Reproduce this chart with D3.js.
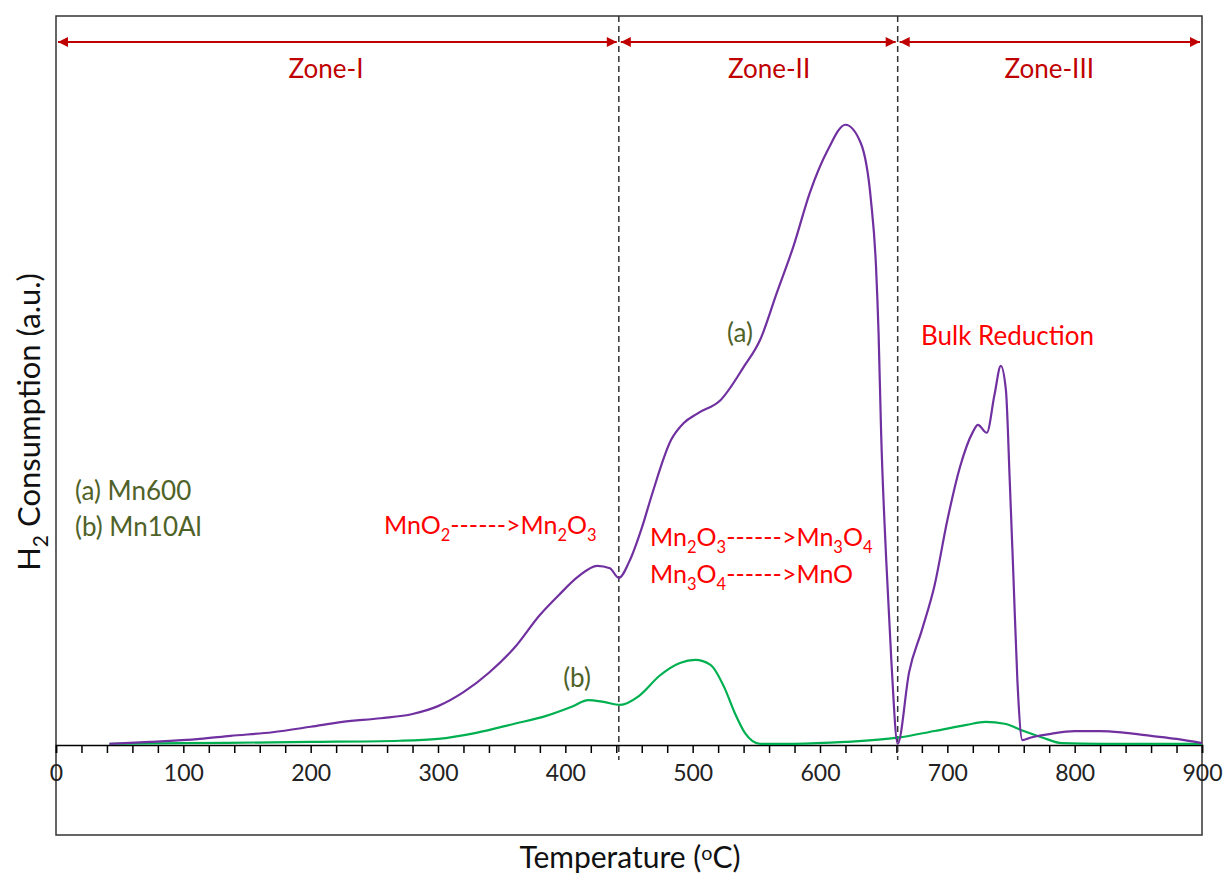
<!DOCTYPE html>
<html>
<head>
<meta charset="utf-8">
<script src="https://cdn.jsdelivr.net/npm/d3@7"></script>
<style>
  body { margin: 0; background: #fff; }
  text { font-family: Lato, "Open Sans", sans-serif; }
</style>
</head>
<body>
<svg id="chart" width="1225" height="878"></svg>
<script>
// ---- data ----
var tempA = [42, 74, 113, 137, 170, 200, 225, 255, 280, 300, 320, 340, 360, 380, 395, 410, 425, 435, 442,
             450, 460, 468, 483, 493, 504, 522, 540, 553, 566, 579, 592, 606, 620, 632, 640, 644, 646, 648,
             652, 656, 661, 670, 680, 690, 700, 710, 720, 724, 731, 737, 742, 746, 749, 752, 755, 759, 765,
             780, 800, 820, 840, 860, 880, 900];
var valA  = [0.2, 0.5, 1.0, 1.5, 2.1, 3.0, 3.8, 4.4, 5.1, 6.4, 8.7, 11.9, 16.0, 21.4, 24.7, 27.7, 29.5, 29.1, 27.5,
             30.1, 35.7, 41.2, 50.2, 53.0, 54.6, 56.8, 62.2, 66.7, 74.4, 82.0, 90.9, 97.9, 102.1, 99.1, 89.7, 78.7, 67.8, 51.4,
             30.5, 14.0, 0.2, 12.0, 18.9, 26.3, 37.0, 45.8, 51.5, 52.7, 51.4, 57.6, 62.4, 58.4, 43.6, 27.2, 10.7, 0.8, 1.2,
             1.8, 2.3, 2.3, 2.0, 1.5, 1.0, 0.3];

var tempB = [42, 100, 200, 270, 300, 330, 360, 385, 405, 418, 430, 443, 458, 474, 490, 502, 514, 525, 533, 541,
             553, 580, 620, 661, 690, 715, 730, 745, 760, 775, 790, 820, 900];
var valB  = [0.2, 0.3, 0.5, 0.7, 1.0, 2.0, 3.5, 4.8, 6.3, 7.4, 7.1, 6.6, 8.1, 11.4, 13.5, 14.0, 13.2, 9.4, 5.3, 2.0,
             0.2, 0.2, 0.5, 1.2, 2.3, 3.3, 3.8, 3.5, 2.3, 1.2, 0.3, 0.2, 0.2];

var xTicks = [0, 100, 200, 300, 400, 500, 600, 700, 800, 900];
var zoneNames = ['Zone-I', 'Zone-II', 'Zone-III'];
var zoneEdges = [0, 442, 661, 900];
var zoneLabelAt = [212, 560, 780];   // temperature where each zone name sits

var svg = d3.select('#chart');

var x = d3.scaleLinear().domain([0, 900]).range([56, 1202]);
var y = d3.scaleLinear().domain([0, 120]).range([745, 16]);

var frameBottom = 835;

// arrow markers for the zone spans
var defs = svg.append('defs');
['start', 'end'].forEach(function (k) {
    defs.append('marker')
        .attr('id', 'arr-' + k)
        .attr('viewBox', '0 0 10 10')
        .attr('refX', k == 'end' ? 10 : 0).attr('refY', 5)
        .attr('markerWidth', 11).attr('markerHeight', 10)
        .attr('markerUnits', 'userSpaceOnUse')
        .attr('orient', 'auto')
        .append('path')
        .attr('d', k == 'end' ? 'M0,0 L10,5 L0,10 Z' : 'M10,0 L0,5 L10,10 Z')
        .attr('fill', '#c00000');
});

// frame
svg.append('rect')
    .attr('x', x(0)).attr('y', y(120))
    .attr('width', x(900) - x(0)).attr('height', frameBottom - y(120))
    .attr('fill', 'none').attr('stroke', '#333').attr('stroke-width', 1.5);

// x axis at zero line
var xAxis = d3.axisBottom(x)
    .tickValues(d3.range(0, 901, 20))
    .tickSize(8)
    .tickFormat(function (d) { return xTicks.includes(d) ? d : ''; });

var gx = svg.append('g')
    .attr('transform', 'translate(0,' + y(0) + ')')
    .call(xAxis);
gx.select('.domain').attr('stroke', '#000').attr('stroke-width', 1.5);
gx.selectAll('.tick line').attr('stroke', '#000').attr('stroke-width', 1.5);
gx.selectAll('.tick text')
    .attr('y', 20)
    .attr('font-size', 23)
    .attr('fill', '#222')
    .style('font-family', 'Lato, sans-serif');

// zone dividers
zoneEdges.slice(1, 3).forEach(function (t) {
    svg.append('line')
        .attr('x1', x(t)).attr('x2', x(t))
        .attr('y1', y(120)).attr('y2', 760)
        .attr('stroke', '#333').attr('stroke-width', 1.5)
        .attr('stroke-dasharray', '6,4');
});

// zone arrows + names
zoneNames.forEach(function (name, i) {
    var a = x(zoneEdges[i]) + 2, b = x(zoneEdges[i + 1]) - 2;
    svg.append('line')
        .attr('x1', a).attr('x2', b)
        .attr('y1', 42).attr('y2', 42)
        .attr('stroke', '#c00000').attr('stroke-width', 2)
        .attr('marker-start', 'url(#arr-start)')
        .attr('marker-end', 'url(#arr-end)');
    svg.append('text')
        .attr('x', x(zoneLabelAt[i])).attr('y', 78)
        .attr('text-anchor', 'middle')
        .attr('font-size', 26)
        .attr('fill', '#c00000')
        .text(name);
});

// curves
var line = d3.line()
    .x(function (d) { return x(d[0]); })
    .y(function (d) { return y(d[1]); })
    .curve(d3.curveMonotoneX);

svg.append('path')
    .datum(d3.zip(tempB, valB))
    .attr('d', line)
    .attr('fill', 'none').attr('stroke', '#00b050').attr('stroke-width', 2.2);

svg.append('path')
    .datum(d3.zip(tempA, valA))
    .attr('d', line)
    .attr('fill', 'none').attr('stroke', '#7030a0').attr('stroke-width', 2.2);

// helper: text with sub/superscript parts  [string, shift] shift: 0 normal, 1 sub, -1 sup
function richText(px, py, parts, size, colour, anchor) {
    var t = svg.append('text')
        .attr('x', px).attr('y', py)
        .attr('font-size', size)
        .attr('fill', colour)
        .attr('text-anchor', anchor || 'start');
    var cur = 0;
    parts.forEach(function (p) {
        var shift = p[1] * size * 0.26;
        var sp = t.append('tspan').text(p[0]).attr('dy', shift - cur);
        if (p[1] != 0) sp.attr('font-size', size * 0.66);
        cur = shift;
    });
    return t;
}

// axis titles
richText(630, 868, [['Temperature (', 0], ['o', -1], ['C)', 0]], 30, '#111', 'middle');

var yl = svg.append('g').attr('transform', 'translate(40,' + 422 + ') rotate(-90)');
var ylt = yl.append('text').attr('text-anchor', 'middle').attr('font-size', 31).attr('fill', '#111');
ylt.append('tspan').text('H');
ylt.append('tspan').text('2').attr('font-size', 21).attr('dy', 8);
ylt.append('tspan').text(' Consumption (a.u.)').attr('dy', -8);

// legend text
svg.append('text').attr('x', 75).attr('y', 500).attr('font-size', 26).attr('fill', '#4f6228').text('(a) Mn600');
svg.append('text').attr('x', 75).attr('y', 536).attr('font-size', 26).attr('fill', '#4f6228').text('(b) Mn10Al');

// curve labels
svg.append('text').attr('x', 740).attr('y', 342).attr('text-anchor', 'middle').attr('font-size', 26).attr('fill', '#4f6228').text('(a)');
svg.append('text').attr('x', 577).attr('y', 687).attr('text-anchor', 'middle').attr('font-size', 26).attr('fill', '#4f6228').text('(b)');

// reduction step annotations
var red = '#ff0000';
richText(384, 534, [['MnO', 0], ['2', 1], ['------>Mn', 0], ['2', 1], ['O', 0], ['3', 1]], 25, red);
richText(650, 546, [['Mn', 0], ['2', 1], ['O', 0], ['3', 1], ['------>Mn', 0], ['3', 1], ['O', 0], ['4', 1]], 25, red);
richText(650, 583, [['Mn', 0], ['3', 1], ['O', 0], ['4', 1], ['------>MnO', 0]], 25, red);
svg.append('text').attr('x', 921).attr('y', 345).attr('font-size', 26).attr('fill', red).text('Bulk Reduction');
</script>
</body>
</html>
